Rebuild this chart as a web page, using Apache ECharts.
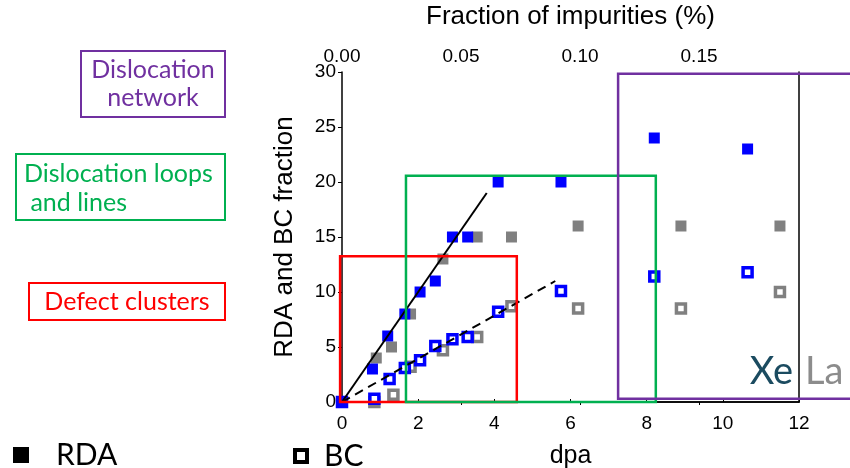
<!DOCTYPE html>
<html>
<head>
<meta charset="utf-8">
<script src="https://cdn.jsdelivr.net/npm/echarts@6/dist/echarts.min.js"></script>
<style>
  html, body { margin: 0; padding: 0; background: #fff; }
  #main { width: 850px; height: 468px; }
</style>
</head>
<body>
<div id="main"></div>
<script>
// data (x = dpa, y = fraction)
var rdaXe = [[0, 0], [0.8, 3], [1.2, 6], [1.65, 8], [2.05, 10], [2.45, 11], [2.9, 15], [3.3, 15], [4.1, 20], [5.75, 20], [8.2, 24], [10.65, 23]];
var rdaLa = [[0.9, 4], [1.3, 5], [1.8, 8], [2.65, 13], [3.55, 15], [4.45, 15], [6.2, 16], [8.9, 16], [11.5, 16]];
var bcXe = [[0, 0], [0.85, 0.3], [1.25, 2.1], [1.65, 3.1], [2.05, 3.8], [2.45, 5.1], [2.9, 5.7], [3.3, 5.9], [4.1, 8.2], [5.75, 10.1], [8.2, 11.4], [10.65, 11.8]];
var bcLa = [[0.85, 0], [1.35, 0.65], [1.8, 3.2], [2.65, 4.7], [3.55, 5.9], [4.45, 8.7], [6.2, 8.5], [8.9, 8.5], [11.5, 10]];
var fitRda = [[0, 0], [3.8, 19]];
var fitBc = [[0, 0], [5.6, 11]];

// regime boxes in data units: [xmin, ymin, xmax, ymax]
var boxRed = [-0.05, 0, 4.59, 13.26];
var boxGreen = [1.68, 0, 8.24, 20.56];
var boxPurple = [7.25, 0.3, 13.5, 29.85];

var chartDom = document.getElementById('main');
var myChart = echarts.init(chartDom);
var option;

var font = 'Liberation Sans';
var gothic = 'Lato';

var notes = [
    { type: 'rect', shape: { x: 81, y: 51, width: 144, height: 66 }, style: { fill: 'none', stroke: '#7030a0', lineWidth: 2 } },
    { type: 'text', x: 153, y: 84, style: { text: 'Dislocation\nnetwork', fill: '#7030a0', font: '25px ' + gothic, align: 'center', verticalAlign: 'middle', lineHeight: 28 } },
    { type: 'rect', shape: { x: 16, y: 154, width: 209, height: 66 }, style: { fill: 'none', stroke: '#00b050', lineWidth: 2 } },
    { type: 'text', x: 24, y: 188, style: { text: 'Dislocation loops\n and lines', fill: '#00b050', font: '25px ' + gothic, align: 'left', verticalAlign: 'middle', lineHeight: 29 } },
    { type: 'rect', shape: { x: 29, y: 283, width: 196, height: 37 }, style: { fill: 'none', stroke: '#ff0000', lineWidth: 2 } },
    { type: 'text', x: 127, y: 302, style: { text: 'Defect clusters', fill: '#ff0000', font: '25px ' + gothic, align: 'center', verticalAlign: 'middle' } },
    { type: 'text', x: 793, y: 372, z: 10, style: { text: 'Xe', fill: '#1b4b60', font: '38px ' + gothic, align: 'right', verticalAlign: 'middle' } },
    { type: 'text', x: 805, y: 372, z: 10, style: { text: 'La', fill: '#8c8c8c', font: '38px ' + gothic, align: 'left', verticalAlign: 'middle' } }
];

option = {
    animation: false,
    grid: { left: 342, right: 51, top: 72, bottom: 66, outerBoundsMode: 'none' },
    xAxis: [{
        type: 'value',
        min: 0, max: 12, interval: 2,
        name: 'dpa',
        nameLocation: 'middle',
        nameGap: 42,
        nameTextStyle: { fontFamily: font, fontSize: 25, color: '#000' },
        axisLine: { lineStyle: { color: '#000', width: 1.5 } },
        axisTick: { inside: true, length: 3, lineStyle: { color: '#000' } },
        axisLabel: { fontFamily: font, fontSize: 19, color: '#000', margin: 12 },
        splitLine: { show: false }
    }, {
        type: 'value',
        position: 'top',
        min: 0, max: 0.192, interval: 0.05,
        name: 'Fraction of impurities (%)',
        nameLocation: 'middle',
        nameGap: 42,
        nameTextStyle: { fontFamily: font, fontSize: 26, color: '#000' },
        axisLine: { lineStyle: { color: '#000', width: 1.5 } },
        axisTick: { inside: true, length: 3, lineStyle: { color: '#000' } },
        axisLabel: {
            fontFamily: font, fontSize: 19, color: '#000', margin: 6,
            showMaxLabel: false,
            formatter: function (v) { return v.toFixed(2); }
        },
        splitLine: { show: false }
    }],
    yAxis: [{
        type: 'value',
        min: 0, max: 30, interval: 5,
        name: 'RDA and BC fraction',
        nameLocation: 'middle',
        nameGap: 44,
        nameTextStyle: { fontFamily: font, fontSize: 26, color: '#000' },
        axisLine: { show: true, lineStyle: { color: '#000', width: 1.5 } },
        axisTick: { show: true, length: 4, lineStyle: { color: '#000' } },
        axisLabel: { fontFamily: font, fontSize: 19, color: '#000', margin: 6 },
        splitLine: { show: false }
    }, {
        type: 'value',
        position: 'right',
        min: 0, max: 30,
        axisLine: { show: true, onZero: false, lineStyle: { color: '#000', width: 1.5 } },
        axisTick: { show: false },
        axisLabel: { show: false },
        splitLine: { show: false }
    }],
    legend: [{
        left: 13, top: 440,
        padding: 0,
        itemWidth: 16, itemHeight: 16,
        selectedMode: false,
        itemStyle: { color: '#000', borderWidth: 0, opacity: 1 },
        textStyle: { fontFamily: gothic, fontSize: 30, color: '#000', padding: [0, 0, 0, 22] },
        data: ['RDA']
    }, {
        left: 293, top: 441,
        padding: 0,
        itemWidth: 12, itemHeight: 12,
        selectedMode: false,
        itemStyle: { color: '#fff', borderColor: '#000', borderWidth: 4, opacity: 1 },
        textStyle: { fontFamily: gothic, fontSize: 30, color: '#000', padding: [0, 0, 0, 12] },
        data: ['BC']
    }],
    graphic: notes,
    series: [
        {
            name: 'La RDA', type: 'scatter', data: rdaLa, z: 2,
            symbol: 'rect', symbolSize: 11,
            itemStyle: { color: '#808080', opacity: 1 }
        },
        {
            name: 'La BC', type: 'scatter', data: bcLa, z: 2,
            symbol: 'rect', symbolSize: 9,
            itemStyle: { color: '#fff', borderColor: '#808080', borderWidth: 3.5, opacity: 1 }
        },
        {
            name: 'Xe BC', type: 'scatter', data: bcXe, z: 3,
            symbol: 'rect', symbolSize: 9,
            itemStyle: { color: '#fff', borderColor: '#0000ff', borderWidth: 3.5, opacity: 1 }
        },
        {
            name: 'Xe RDA', type: 'scatter', data: rdaXe, z: 3,
            symbol: 'rect', symbolSize: 11,
            itemStyle: { color: '#0000ff', opacity: 1 }
        },
        {
            name: 'fit RDA', type: 'line', data: fitRda, z: 4,
            symbol: 'none', silent: true,
            lineStyle: { color: '#000', width: 2 }
        },
        {
            name: 'fit BC', type: 'line', data: fitBc, z: 4,
            symbol: 'none', silent: true,
            lineStyle: { color: '#000', width: 2, type: [9, 6] }
        },
        // legend-only series
        {
            name: 'RDA', type: 'scatter', data: [],
            symbol: 'rect',
            itemStyle: { color: '#000', opacity: 1 }
        },
        {
            name: 'BC', type: 'scatter', data: [],
            symbol: 'rect',
            itemStyle: { color: '#fff', borderColor: '#000', borderWidth: 4, opacity: 1 }
        }
    ]
};

option && myChart.setOption(option);

// regime boxes, placed through the axes (they run past the plot edge)
function boxRect(b, color) {
    var p0 = myChart.convertToPixel({ xAxisIndex: 0, yAxisIndex: 0 }, [b[0], b[3]]);
    var p1 = myChart.convertToPixel({ xAxisIndex: 0, yAxisIndex: 0 }, [b[2], b[1]]);
    return {
        type: 'rect', z: 100,
        shape: { x: p0[0], y: p0[1], width: p1[0] - p0[0], height: p1[1] - p0[1] },
        style: { fill: 'none', stroke: color, lineWidth: 2.5 }
    };
}

myChart.setOption({
    graphic: notes.concat([
        boxRect(boxRed, '#ff0000'),
        boxRect(boxGreen, '#00b050'),
        boxRect(boxPurple, '#7030a0')
    ])
});
</script>
</body>
</html>
